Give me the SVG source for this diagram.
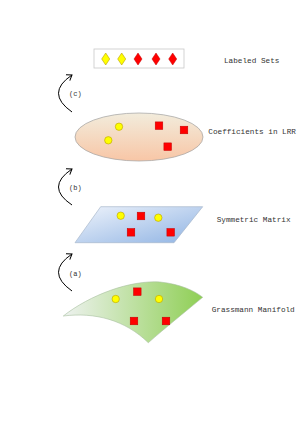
<svg xmlns="http://www.w3.org/2000/svg" width="304" height="430" viewBox="0 0 304 430">
<defs>
<linearGradient id="gEll" x1="0" y1="0" x2="0" y2="1">
<stop offset="0" stop-color="#f2ecdc"/>
<stop offset="1" stop-color="#f8c6a6"/>
</linearGradient>
<linearGradient id="gPar" x1="0" y1="0" x2="1" y2="1">
<stop offset="0" stop-color="#eef3fb"/>
<stop offset="1" stop-color="#8fb3e3"/>
</linearGradient>
<linearGradient id="gMan" x1="0" y1="0" x2="1" y2="0">
<stop offset="0" stop-color="#eef2f0"/>
<stop offset="1" stop-color="#8fcf55"/>
</linearGradient>
<marker id="arr" markerWidth="8" markerHeight="8" refX="6" refY="4" orient="auto" markerUnits="userSpaceOnUse">
<polyline points="1,0.5 6,4 1,7.5" fill="none" stroke="#000" stroke-width="1"/>
</marker>
</defs>
<style>
.t{font-family:"Liberation Mono","DejaVu Sans Mono",monospace;font-size:7.7px;fill:#333}
.l{font-family:"Liberation Mono","DejaVu Sans Mono",monospace;font-size:7px;fill:#333}
.sq{fill:#ff0000;stroke:#c00000;stroke-width:0.5}
.ci{fill:#ffff00;stroke:#b8a000;stroke-width:0.6}
.dy{fill:#ffff00;stroke:#b8a000;stroke-width:0.6}
.dr{fill:#ff0000;stroke:#c00000;stroke-width:0.5}
.arc{fill:none;stroke:#000;stroke-width:1}
</style>
<rect width="304" height="430" fill="#fff"/>
<g id="labeled-sets">
<rect x="94" y="49" width="90" height="19" fill="#fff" stroke="#c8c8c8" stroke-width="0.8"/>
<polygon class="dy" points="105.7,53 109.7,59 105.7,65 101.7,59"/>
<polygon class="dy" points="121.7,53 125.7,59 121.7,65 117.7,59"/>
<polygon class="dr" points="138,53 142,59 138,65 134,59"/>
<polygon class="dr" points="156,53 160,59 156,65 152,59"/>
<polygon class="dr" points="172.7,53 176.7,59 172.7,65 168.7,59"/>
<text class="t" x="224" y="63">Labeled Sets</text>
</g>
<g id="coefficients">
<ellipse cx="139" cy="137" rx="64" ry="24" fill="url(#gEll)" stroke="#a0a0a0" stroke-width="0.7"/>
<circle class="ci" cx="119" cy="126.7" r="3.7"/>
<circle class="ci" cx="108.3" cy="140.3" r="3.7"/>
<rect class="sq" x="155.2" y="121.9" width="7.6" height="7.6"/>
<rect class="sq" x="180.2" y="126.2" width="7.6" height="7.6"/>
<rect class="sq" x="163.9" y="142.9" width="7.6" height="7.6"/>
<text class="t" x="208.3" y="134">Coefficients in LRR</text>
</g>
<g id="symmetric">
<polygon points="100.7,206.7 202.7,206.7 174,242.7 75,242.7" fill="url(#gPar)" stroke="#a8b8cc" stroke-width="0.7"/>
<circle class="ci" cx="120.7" cy="215.7" r="3.7"/>
<circle class="ci" cx="158.3" cy="217.7" r="3.7"/>
<rect class="sq" x="137.2" y="212.2" width="7.6" height="7.6"/>
<rect class="sq" x="127.2" y="228.5" width="7.6" height="7.6"/>
<rect class="sq" x="166.9" y="228.5" width="7.6" height="7.6"/>
<text class="t" x="216.7" y="222.3">Symmetric Matrix</text>
</g>
<g id="grassmann">
<path d="M63.3,316 C90,295 130,280 160,282 C180,284 195,291 202.7,297.3 C185,312 165,328 148.3,342.7 C125,320 95,312 63.3,316 Z" fill="url(#gMan)" stroke="#a8c0a0" stroke-width="0.6"/>
<circle class="ci" cx="115.7" cy="299" r="3.7"/>
<circle class="ci" cx="159" cy="299" r="3.7"/>
<rect class="sq" x="133.5" y="287.9" width="7.6" height="7.6"/>
<rect class="sq" x="130.2" y="317.2" width="7.6" height="7.6"/>
<rect class="sq" x="162.2" y="317.2" width="7.6" height="7.6"/>
<text class="t" x="211.7" y="312.3">Grassmann Manifold</text>
</g>
<g id="connectors">
<path class="arc" d="M72,112 Q45,93 72,75" marker-end="url(#arr)"/>
<text class="l" x="69" y="96">(c)</text>
<path class="arc" d="M72,205 Q45,187 72,169" marker-end="url(#arr)"/>
<text class="l" x="69" y="190">(b)</text>
<path class="arc" d="M72,291 Q45,272 72,254" marker-end="url(#arr)"/>
<text class="l" x="69" y="276">(a)</text>
</g>
</svg>
